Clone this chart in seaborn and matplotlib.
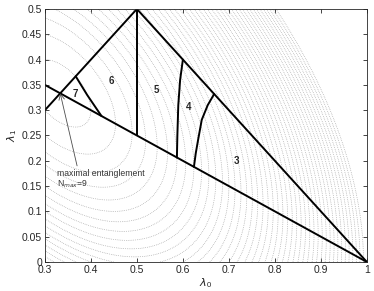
import numpy as np
import matplotlib
matplotlib.use("Agg")
import matplotlib.pyplot as plt
import seaborn as sns

# triangle edges and region boundaries (lambda0, lambda1)
edge_lower_x = [0.3, 1.0]
edge_lower_y = [0.35, 0.0]
edge_diag_x = [0.3, 0.5]
edge_diag_y = [0.3, 0.5]
edge_upper_x = [0.5, 1.0]
edge_upper_y = [0.5, 0.0]
vert_x = [0.5, 0.5]
vert_y = [0.25, 0.5]

b76_x = [0.367, 0.392, 0.423]
b76_y = [0.367, 0.330, 0.2885]
b54_x = [0.600, 0.594, 0.590, 0.588, 0.587]
b54_y = [0.400, 0.360, 0.310, 0.250, 0.2065]
b43_x = [0.668, 0.654, 0.641, 0.633, 0.628, 0.624]
b43_y = [0.332, 0.310, 0.281, 0.241, 0.215, 0.188]

region_labels = ["7", "6", "5", "4", "3"]
label_x = [0.367, 0.445, 0.543, 0.612, 0.717]
label_y = [0.332, 0.358, 0.340, 0.307, 0.200]

sns.set_style("ticks")
plt.rcParams['font.family'] = ['Liberation Sans', 'DejaVu Sans']
plt.rcParams['mathtext.fontset'] = 'custom'
plt.rcParams['mathtext.rm'] = 'Liberation Sans'

fig = plt.figure(figsize=(3.74, 2.91), dpi=100)
ax = fig.add_axes([0.12, 0.0997, 0.861, 0.8694])

# background: contours of purity l0^2 + l1^2 + l2^2
g0, g1 = np.meshgrid(np.linspace(0.3, 1.0, 400), np.linspace(0.0, 0.5, 300))
purity = g0**2 + g1**2 + (1 - g0 - g1)**2
ax.contour(g0, g1, purity, levels=np.arange(0.34, 1.0, 0.015),
           colors='0.6', linestyles=':', linewidths=0.5)

for xs, ys in [(edge_lower_x, edge_lower_y), (edge_diag_x, edge_diag_y),
               (edge_upper_x, edge_upper_y), (vert_x, vert_y),
               (b76_x, b76_y), (b54_x, b54_y), (b43_x, b43_y)]:
    sns.lineplot(x=xs, y=ys, sort=False, estimator=None, color='black', lw=1.4, ax=ax)

for t, x, y in zip(region_labels, label_x, label_y):
    ax.text(x, y, t, fontsize=7, fontweight='bold', ha='center', va='center')

ax.annotate("", xy=(1/3, 1/3), xytext=(0.37, 0.19),
            arrowprops=dict(arrowstyle='->', color='0.3', lw=0.6, shrinkA=0, shrinkB=0))
ax.text(0.326, 0.174, "maximal entanglement", fontsize=6.2, color='0.2', va='center')
ax.text(0.326, 0.153, "N$_{max}$=9", fontsize=6.2, color='0.2', va='center')

ax.set_xlim(0.3, 1.0)
ax.set_ylim(0.0, 0.5)
ax.set_xticks(np.arange(0.3, 1.01, 0.1))
ax.set_xticklabels(["0.3", "0.4", "0.5", "0.6", "0.7", "0.8", "0.9", "1"])
ax.set_yticks(np.arange(0, 0.501, 0.05))
ax.set_yticklabels(["0", "0.05", "0.1", "0.15", "0.2", "0.25", "0.3", "0.35", "0.4", "0.45", "0.5"])
ax.tick_params(direction='in', top=True, right=True, length=3, width=0.6, labelsize=7.5, pad=2)
for s in ax.spines.values():
    s.set_linewidth(0.6)
ax.set_xlabel("$\\lambda_0$", fontsize=8, labelpad=1)
ax.set_ylabel("$\\lambda_1$", fontsize=8, labelpad=2)

fig.savefig("out.png", dpi=100)
